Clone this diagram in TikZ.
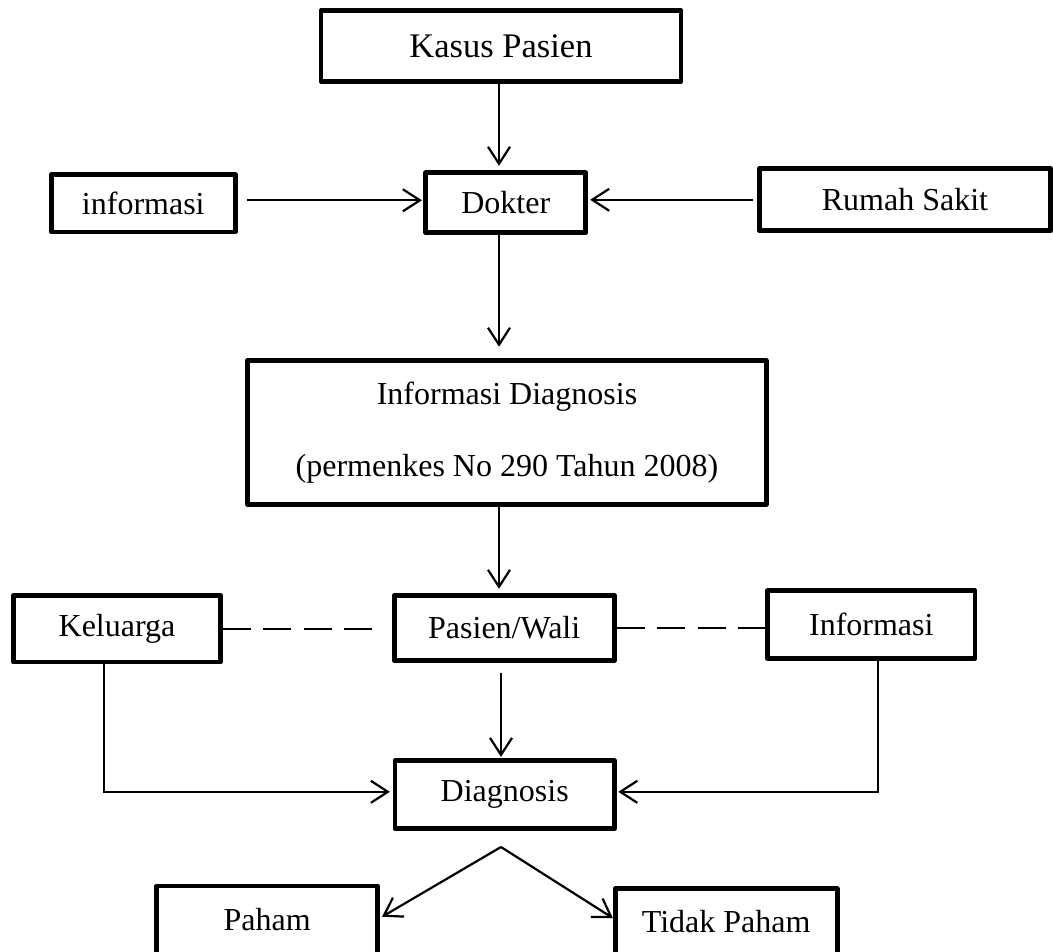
\documentclass[tikz,border=0pt]{standalone}
\usepackage{fontspec}
\setmainfont{Liberation Serif}
\usetikzlibrary{arrows.meta}
\begin{document}
\begin{tikzpicture}[x=1pt,y=-1pt,
  box/.style={draw, line width=4.8pt, line join=round, inner sep=0pt, font=\fontsize{32}{38}\selectfont},
  conn/.style={line width=2.2pt},
  arr/.style={conn, -{Straight Barb[length=17pt,width=22pt]}},
  dsh/.style={conn, dash pattern=on 28pt off 12.5pt}]
\useasboundingbox (0,0) rectangle (1053,952);
\clip (0,0) rectangle (1053,952);
\node[box, minimum width=360pt, minimum height=71pt, font=\fontsize{34.5}{40}\selectfont] (kasus) at (501,46) {Kasus Pasien};
\node[box, minimum width=160pt, minimum height=60pt] (dokter) at (505.8,202.7) {Dokter};
\node[box, minimum width=184pt, minimum height=57.3pt] (info1) at (143.3,203.3) {informasi};
\node[box, minimum width=291.5pt, minimum height=62pt] (rs) at (905,199.8) {Rumah Sakit};
\node[box, minimum width=518.5pt, minimum height=143.7pt, align=center, font=\fontsize{32}{72}\selectfont] (infodiag) at (507,432.5) {Informasi Diagnosis\\(permenkes No 290 Tahun 2008)};
\node[box, minimum width=207pt, minimum height=66.7pt] (kel) at (117,628.7) {Keluarga};
\node[box, minimum width=220pt, minimum height=65.5pt] (pw) at (504.2,628) {Pasien/Wali};
\node[box, minimum width=207.5pt, minimum height=67.5pt] (info2) at (871.3,624.6) {Informasi};
\node[box, minimum width=219.4pt, minimum height=68pt] (diag) at (504.7,794.8) {Diagnosis};
\node[box, minimum width=220.7pt, minimum height=68pt] (paham) at (267.2,920) {Paham};
\node[box, minimum width=222pt, minimum height=66pt] (tpaham) at (726.2,921.7) {Tidak Paham};
\coordinate (apex) at (501,847);
\coordinate (tx) at (499,0);

\draw[arr, shorten >=4.5pt] (kasus.south -| tx) -- (dokter.north -| tx);
\draw[arr, shorten <=9.5pt, shorten >=1.5pt] ([yshift=3pt]info1.east) -- ([yshift=3pt]info1.east -| dokter.west);
\draw[arr, shorten <=4pt, shorten >=2pt] (rs.west) -- (rs.west -| dokter.east);
\draw[arr, shorten >=11.5pt] (dokter.south -| tx) -- (infodiag.north -| tx);
\draw[arr, shorten >=4pt] (infodiag.south -| tx) -- (pw.north -| tx);
\draw[dsh] (kel.east) -- ([xshift=-19pt]kel.east -| pw.west);
\draw[dsh] (pw.east) -- (pw.east -| info2.west);
\draw[arr, shorten <=10pt, shorten >=1.5pt] (pw.south -| apex) -- (diag.north -| apex);
\draw[arr, shorten >=2.7pt] ([xshift=-13pt]kel.south) |- ([yshift=3pt]diag.west);
\draw[arr, shorten >=1.5pt] ([xshift=6.7pt]info2.south) |- ([yshift=3pt]diag.east);
\draw[arr, shorten >=2.5pt] (apex) -- ([yshift=2pt]paham.east);
\draw[arr] (apex) -- ([yshift=3.7pt]tpaham.west);
\end{tikzpicture}
\end{document}
